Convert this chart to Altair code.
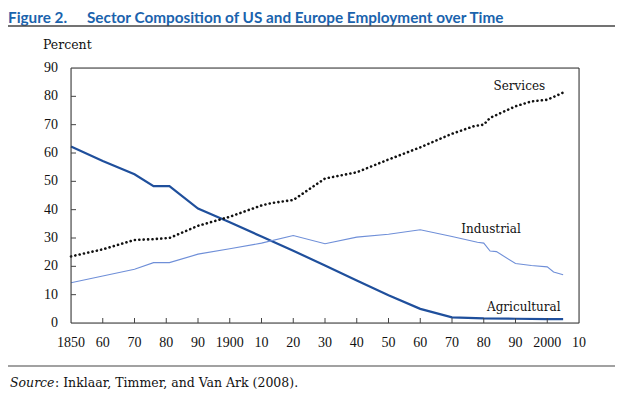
import altair as alt
import pandas as pd

# ---- data ----
agri_years = [1850, 1860, 1870, 1876, 1881, 1890, 1900, 1910, 1920, 1930, 1940, 1950, 1960, 1970, 1980, 1990, 2000, 2005]
agri_vals = [62.3, 57.2, 52.5, 48.3, 48.3, 40.4, 35.6, 30.5, 25.5, 20.3, 15.0, 9.8, 5.0, 2.0, 1.6, 1.5, 1.4, 1.4]

ind_years = [1850, 1860, 1870, 1876, 1881, 1890, 1900, 1910, 1920, 1930, 1940, 1950, 1960, 1970, 1978, 1980, 1982, 1984, 1990, 1995, 2000, 2002, 2005]
ind_vals = [14.2, 16.6, 19.0, 21.3, 21.3, 24.3, 26.2, 28.2, 30.9, 28.0, 30.3, 31.3, 32.9, 30.5, 28.5, 28.2, 25.4, 25.2, 21.0, 20.3, 19.8, 18.0, 17.0]

svc_years = [1850, 1860, 1870, 1876, 1881, 1890, 1900, 1910, 1913, 1920, 1930, 1940, 1950, 1960, 1970, 1977, 1980, 1982, 1990, 1995, 2000, 2005]
svc_vals = [23.5, 26.0, 29.3, 29.6, 30.0, 34.3, 37.5, 41.5, 42.3, 43.4, 51.0, 53.2, 57.7, 62.0, 66.8, 69.5, 70.0, 72.4, 76.5, 78.2, 78.8, 81.3]

x_ticks = [1850, 1860, 1870, 1880, 1890, 1900, 1910, 1920, 1930, 1940, 1950, 1960, 1970, 1980, 1990, 2000, 2010]
x_tick_labels = ["1850", "60", "70", "80", "90", "1900", "10", "20", "30", "40", "50", "60", "70", "80", "90", "2000", "10"]
y_ticks = [0, 10, 20, 30, 40, 50, 60, 70, 80, 90]
y_tick_labels = ["0", "10", "20", "30", "40", "50", "60", "70", "80", "90"]

label_names = ["Services", "Industrial", "Agricultural"]
label_years = [1991.2, 1982.3, 1992.6]
label_vals = [83.6, 33.1, 5.8]

title_fig = "Figure 2."
title_text = "Sector Composition of US and Europe Employment over Time"
source_italic = "Source"
source_rest = ": Inklaar, Timmer, and Van Ark (2008)."

W, H = 508, 255
SERIF = "DejaVu Serif"
DIGITS = "Liberation Serif"
BLUE_T = "#1a63ad"

xs = alt.Scale(domain=[1850, 2010], nice=False, zero=False)
ys = alt.Scale(domain=[0, 90], nice=False)
X = alt.X("year:Q", scale=xs, axis=None)
Y = alt.Y("value:Q", scale=ys, axis=None)

one = pd.DataFrame({"a": [0]})
FR = "#333"
fr_top = alt.Chart(one).mark_rule(color=FR, strokeWidth=1).encode(x=alt.value(0), x2=alt.value(W), y=alt.value(0))
fr_bot = alt.Chart(one).mark_rule(color=FR, strokeWidth=1).encode(x=alt.value(0), x2=alt.value(W), y=alt.value(H))
fr_l = alt.Chart(one).mark_rule(color=FR, strokeWidth=1).encode(y=alt.value(0), y2=alt.value(H), x=alt.value(0))
fr_r = alt.Chart(one).mark_rule(color=FR, strokeWidth=1).encode(y=alt.value(0), y2=alt.value(H), x=alt.value(W))

agri = alt.Chart(pd.DataFrame({"year": agri_years, "value": agri_vals})).mark_line(
    color="#1f4f9c", strokeWidth=2.2).encode(x=X, y=Y)
ind = alt.Chart(pd.DataFrame({"year": ind_years, "value": ind_vals})).mark_line(
    color="#6f8fd8", strokeWidth=1.1).encode(x=X, y=Y)
svc = alt.Chart(pd.DataFrame({"year": svc_years, "value": svc_vals})).mark_line(
    color="#111", strokeWidth=2.6, strokeDash=[0.1, 4.3], strokeCap="round").encode(x=X, y=Y)

xtick = alt.Chart(pd.DataFrame({"year": x_ticks[1:-1]})).mark_rule(color="#444", strokeWidth=1).encode(
    x=X, y=alt.value(H), y2=alt.value(H - 5))
ytick = alt.Chart(pd.DataFrame({"value": y_ticks[1:-1]})).mark_rule(color="#444", strokeWidth=1).encode(
    y=Y, x=alt.value(0), x2=alt.value(5))

xlab = alt.Chart(pd.DataFrame({"year": x_ticks, "lab": x_tick_labels})).mark_text(
    font=DIGITS, fontSize=14, color="#111", align="center", baseline="middle").encode(
    x=X, y=alt.value(H + 20), text="lab:N")
ylab = alt.Chart(pd.DataFrame({"value": y_ticks, "lab": y_tick_labels})).mark_text(
    font=DIGITS, fontSize=14, color="#111", align="right", baseline="middle").encode(
    y=Y, x=alt.value(-13), text="lab:N")

labels = alt.Chart(pd.DataFrame({"year": label_years, "value": label_vals, "name": label_names})).mark_text(
    font=SERIF, fontSize=12, color="#111", align="center", baseline="middle").encode(
    x=X, y=Y, text="name:N")

t1 = alt.Chart(one).mark_text(text=title_fig, font="Lato", fontWeight="bold", fontSize=15.3, color=BLUE_T,
                              align="left", baseline="middle").encode(x=alt.value(-63), y=alt.value(-50))
t2 = alt.Chart(one).mark_text(text=title_text, font="Lato", fontWeight="bold", fontSize=15.3, color=BLUE_T,
                              align="left", baseline="middle").encode(x=alt.value(16), y=alt.value(-50))
line1 = alt.Chart(one).mark_rule(color="#444", strokeWidth=1.6).encode(
    x=alt.value(-63), x2=alt.value(544), y=alt.value(-42))
pct = alt.Chart(one).mark_text(text="Percent", font=SERIF, fontSize=12.5, color="#111",
                               align="left", baseline="middle").encode(x=alt.value(-28), y=alt.value(-23))
line2 = alt.Chart(one).mark_rule(color="#444", strokeWidth=1.2).encode(
    x=alt.value(-63), x2=alt.value(544), y=alt.value(298))
s1 = alt.Chart(one).mark_text(text=source_italic, font=SERIF, fontStyle="italic", fontSize=12.5, color="#111",
                              align="left", baseline="middle").encode(x=alt.value(-61), y=alt.value(315))
s2 = alt.Chart(one).mark_text(text=source_rest, font=SERIF, fontSize=12.5, color="#111",
                              align="left", baseline="middle").encode(x=alt.value(-16), y=alt.value(315))

chart = alt.layer(agri, ind, svc, fr_top, fr_bot, fr_l, fr_r, xtick, ytick, xlab, ylab, labels,
                  t1, t2, line1, pct, line2, s1, s2).properties(
    width=W, height=H,
    autosize=alt.AutoSizeParams(type="none"),
    padding={"left": 63, "top": 60, "right": 36, "bottom": 66},
).configure_view(stroke=None).configure(background="white")

chart.save("out.html", embed_options={"renderer": "svg", "actions": False})
